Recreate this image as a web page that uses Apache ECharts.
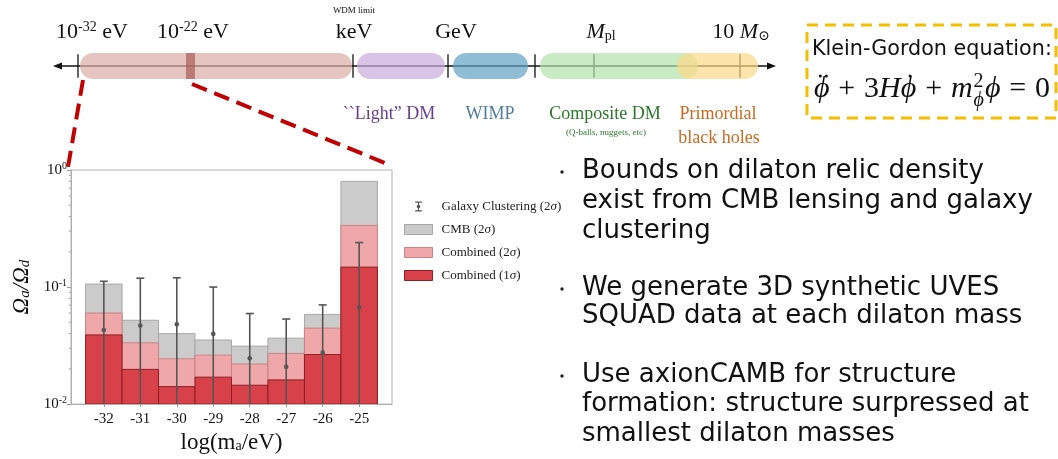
<!DOCTYPE html>
<html><head><meta charset="utf-8">
<script src="https://cdn.jsdelivr.net/npm/echarts@6/dist/echarts.min.js"></script>
<style>html,body{margin:0;padding:0;background:#fff}#c{width:1058px;height:459px}</style>
</head><body><div id="c"></div>
<script>
// ---------- data: dilaton relic density bounds ----------
const masses = [-32, -31, -30, -29, -28, -27, -26, -25];          // log10(m_a / eV)
const cmb2   = [0.106, 0.052, 0.040, 0.0353, 0.0313, 0.0366, 0.0584, 0.80];
const comb2  = [0.060, 0.0334, 0.0244, 0.0262, 0.0220, 0.0271, 0.0446, 0.336];
const comb1  = [0.039, 0.0198, 0.0141, 0.0170, 0.0145, 0.0161, 0.0265, 0.148];
const gcCentral = [0.043, 0.047, 0.048, 0.0398, 0.0246, 0.0208, 0.0276, 0.0673];
const gcUpper   = [0.112, 0.119, 0.120, 0.100, 0.0594, 0.0533, 0.0704, 0.240];
const gcLower   = [0.005, 0.005, 0.005, 0.005, 0.005, 0.005, 0.005, 0.005]; // below axis
const yMajorTicks = [0.01, 0.1, 1];
const yMinorTicks = [0.02,0.03,0.04,0.05,0.06,0.07,0.08,0.09,0.2,0.3,0.4,0.5,0.6,0.7,0.8,0.9];
const seriesNames = ['Galaxy Clustering (2σ)', 'CMB (2σ)', 'Combined (2σ)', 'Combined (1σ)'];

// ---------- schematic dark-matter mass line (schematic units, not to scale) ----------
const dmClasses   = ['ultralight', '``Light” DM', 'WIMP', 'Composite DM', 'Primordial black holes'];
const dmFrom      = [80, 357, 453, 540, 677];
const dmTo        = [352, 445, 528, 698, 758];
const fuzzyFrom   = [186];
const fuzzyTo     = [195];
const scaleMarks  = [78, 353, 448, 535, 594, 740];

const SERIF = '"Liberation Serif", "DejaVu Serif", serif';
const SANS = '"DejaVu Sans", "Open Sans", sans-serif';
const dmFill = ['rgb(219,172,165)', 'rgb(201,171,221)', 'rgb(94,161,195)', 'rgb(176,226,169)', 'rgb(252,217,136)'];

const chart = echarts.init(document.getElementById('c'), null, {renderer: 'canvas'});
const measureCtx = document.createElement('canvas').getContext('2d');
function textWidth(t, font) { measureCtx.font = font; return measureCtx.measureText(t).width; }
function fitSize(t, family, target) {
  const w = textWidth(t, '100px ' + family);
  return 100 * target / w;
}

function barRender(fill, stroke) {
  return function (params, api) {
    const x = api.value(0), v = api.value(1);
    const p0 = api.coord([x - 0.5, v]);
    const p1 = api.coord([x + 0.5, 0.01]);
    return {type: 'rect', shape: {x: p0[0], y: p0[1], width: p1[0] - p0[0], height: p1[1] - p0[1]},
            style: {fill: fill, stroke: stroke, lineWidth: 1}};
  };
}
function errRender(params, api) {
  const x = api.value(0);
  const lo = api.coord([x, api.value(1)]), hi = api.coord([x, api.value(2)]), mid = api.coord([x, api.value(3)]);
  const c = '#555', w = 4;
  return {type: 'group', children: [
    {type: 'line', shape: {x1: hi[0], y1: hi[1], x2: lo[0], y2: lo[1]}, style: {stroke: c, lineWidth: 1.6}},
    {type: 'line', shape: {x1: hi[0] - w, y1: hi[1], x2: hi[0] + w, y2: hi[1]}, style: {stroke: c, lineWidth: 1.6}},
    {type: 'line', shape: {x1: lo[0] - w, y1: lo[1], x2: lo[0] + w, y2: lo[1]}, style: {stroke: c, lineWidth: 1.6}},
    {type: 'circle', shape: {cx: mid[0], cy: mid[1], r: 2.3}, style: {fill: c}}
  ]};
}
function minorRender(params, api) {
  const p = api.coord([api.value(0), api.value(1)]);
  return {type: 'line', shape: {x1: p[0] - 2.5, y1: p[1], x2: p[0], y2: p[1]}, style: {stroke: '#999', lineWidth: 0.8}};
}
function bandRender(params, api) {
  const k = api.value(2);
  const a = api.coord([api.value(0), 0]), b = api.coord([api.value(1), 1]);
  const h = a[1] - b[1];
  return {type: 'rect', shape: {x: a[0], y: b[1], width: b[0] - a[0], height: h, r: h / 2},
          style: {fill: dmFill[k], opacity: 0.7}};
}
function fuzzyRender(params, api) {
  const a = api.coord([api.value(0), 0]), b = api.coord([api.value(1), 1]);
  return {type: 'rect', shape: {x: a[0], y: b[1], width: b[0] - a[0], height: a[1] - b[1]},
          style: {fill: 'rgba(170,90,90,0.7)'}};
}
function markRender(params, api) {
  const a = api.coord([api.value(0), 0.05]), b = api.coord([api.value(0), 0.95]);
  return {type: 'line', shape: {x1: a[0], y1: a[1], x2: b[0], y2: b[1]}, style: {stroke: '#111', lineWidth: 1.3}};
}

// equation pieces: phi-ddot + 3 H phi-dot + m_phi^2 phi = 0
const eqParts = [
  {t: 'ϕ', it: true, acc: 2}, {op: '+'}, {t: '3', it: false}, {t: 'H', it: true},
  {t: 'ϕ', it: true, acc: 1}, {op: '+'}, {t: 'm', it: true}, {sup: '2', sub: 'ϕ'},
  {t: 'ϕ', it: true}, {op: '='}, {t: '0', it: false}
];
function buildEquation(x0, x1, baseY, fs) {
  const els = [];
  const small = Math.round(fs * 0.66);
  const upF = fs + 'px ' + SERIF, itF = 'italic ' + fs + 'px ' + SERIF;
  const smUp = small + 'px ' + SERIF, smIt = 'italic ' + small + 'px ' + SERIF;
  let glyphs = 0, nOps = 0;
  const widths = eqParts.map(p => {
    let w;
    if (p.sup) w = Math.max(textWidth(p.sup, smUp), textWidth(p.sub, smIt)) + 2;
    else if (p.op) { w = textWidth(p.op, upF); nOps++; }
    else w = textWidth(p.t, p.it ? itF : upF);
    glyphs += w;
    return w;
  });
  const gap = (x1 - x0 - glyphs) / (2 * nOps);
  let x = x0;
  eqParts.forEach((p, i) => {
    const w = widths[i];
    if (p.op) x += gap;
    if (p.sup) {
      els.push({type: 'text', x: x + 1, y: baseY - fs * 0.40, z: 20, style: {text: p.sup, font: smUp, fill: '#111', verticalAlign: 'bottom'}});
      els.push({type: 'text', x: x + 1, y: baseY + fs * 0.24, z: 20, style: {text: p.sub, font: smIt, fill: '#111', verticalAlign: 'bottom'}});
    } else {
      const f = p.op ? upF : (p.it ? itF : upF);
      els.push({type: 'text', x: x, y: baseY, z: 20, style: {text: p.op || p.t, font: f, fill: '#111', verticalAlign: 'bottom'}});
      if (p.acc) {
        const cx = x + w * 0.6, cy = baseY - fs * 0.93;
        const dots = p.acc === 1 ? [0] : [-3, 3];
        dots.forEach(d => els.push({type: 'circle', z: 20, shape: {cx: cx + d, cy: cy, r: 1.5}, style: {fill: '#111'}}));
      }
    }
    x += w;
    if (p.op) x += gap;
  });
  return els;
}

const bullets = [
  ['Bounds on dilaton relic density', 'exist from CMB lensing and galaxy', 'clustering'],
  ['We generate 3D synthetic UVES', 'SQUAD data at each dilaton mass'],
  ['Use axionCAMB for structure', 'formation: structure surpressed at', 'smallest dilaton masses']
];
const bulletY = [[171, 201, 231], [288, 316], [375, 404, 434]];
const bulletSize = fitSize(bullets[0][1], SANS, 451);
const kgSize = fitSize('Klein-Gordon equation:', SANS, 240);

const graphics = [];
// arrow line
graphics.push({type: 'line', z: 1, shape: {x1: 58, y1: 66, x2: 770, y2: 66}, style: {stroke: '#111', lineWidth: 1.5}});
graphics.push({type: 'polygon', z: 1, shape: {points: [[53, 66], [62, 62.5], [62, 69.5]]}, style: {fill: '#111'}});
graphics.push({type: 'polygon', z: 1, shape: {points: [[776, 66], [767, 62.5], [767, 69.5]]}, style: {fill: '#111'}});
// top labels
const supRich = {sup: {fontSize: 14, fontFamily: SERIF, padding: [0, 0, 9, 0]}, i: {fontStyle: 'italic', fontSize: 22, fontFamily: SERIF}, sub: {fontSize: 14, fontFamily: SERIF, padding: [8, 0, 0, 0]}};
function topLabel(txt, cx, align) {
  return {type: 'text', x: cx, y: 32, z: 10, style: {text: txt, fontSize: 22, fontFamily: SERIF, fill: '#111', align: align || 'center', verticalAlign: 'middle', rich: supRich}};
}
graphics.push(topLabel('10{sup|-32} eV', 56, 'left'));
graphics.push(topLabel('10{sup|-22} eV', 157, 'left'));
graphics.push(topLabel('keV', 354));
graphics.push(topLabel('GeV', 456));
graphics.push(topLabel('{i|M}{sub|pl}', 601));
graphics.push(topLabel('10 {i|M}{sub|⊙}', 741));
graphics.push({type: 'text', x: 354, y: 11, z: 10, style: {text: 'WDM limit', fontSize: 9, fontFamily: SERIF, fill: '#111', align: 'center', verticalAlign: 'middle'}});
// class labels
function classLabel(txt, cx, cy, color, fs) {
  return {type: 'text', x: cx, y: cy, z: 10, style: {text: txt, fontSize: fs || 18, fontFamily: SERIF, fill: color, align: 'center', verticalAlign: 'middle'}};
}
graphics.push(classLabel(dmClasses[1], 389, 114, '#6a408e'));
graphics.push(classLabel(dmClasses[2], 490, 114, '#4f7d9c'));
graphics.push(classLabel(dmClasses[3], 605, 114, '#2a7a2a'));
graphics.push(classLabel('(Q-balls, nuggets, etc)', 606, 133, '#2a7a2a', 9));
graphics.push(classLabel('Primordial', 718, 114, '#cc6a1f'));
graphics.push(classLabel('black holes', 719, 138, '#cc6a1f'));
// zoom lines
graphics.push({type: 'line', z: 5, shape: {x1: 83, y1: 80, x2: 68, y2: 167}, style: {stroke: '#c00000', lineWidth: 4, lineDash: [16, 8]}});
graphics.push({type: 'line', z: 5, shape: {x1: 192, y1: 84, x2: 385, y2: 163}, style: {stroke: '#c00000', lineWidth: 4, lineDash: [16, 8]}});
// equation box
graphics.push({type: 'rect', z: 5, shape: {x: 807, y: 25, width: 249, height: 93}, style: {fill: '#fff', stroke: '#f6bd00', lineWidth: 3, lineDash: [11, 7]}});
graphics.push({type: 'text', x: 812, y: 50, z: 20, style: {text: 'Klein-Gordon equation:', fontSize: kgSize, fontFamily: SANS, fill: '#111', verticalAlign: 'middle'}});
buildEquation(814, 1050, 104, 30).forEach(e => graphics.push(e));
// bullets
bullets.forEach((lines, bi) => {
  graphics.push({type: 'circle', z: 10, shape: {cx: 562, cy: bulletY[bi][0] + 1, r: 1.7}, style: {fill: '#222'}});
  lines.forEach((ln, li) => {
    graphics.push({type: 'text', x: 582, y: bulletY[bi][li], z: 10, style: {text: ln, fontSize: bulletSize, fontFamily: SANS, fill: '#111', verticalAlign: 'middle'}});
  });
});

const errIcon = 'path://M0,6L0,6M28,6L28,6M10,0H18V1.4H14.7V10.6H18V12H10V10.6H13.3V1.4H10Z M14,3.8A2.2,2.2 0 1,1 14,8.2A2.2,2.2 0 1,1 14,3.8Z';

const option = {
  backgroundColor: '#fff',
  animation: false,
  grid: [
    {left: 71, top: 170, width: 321, height: 237, show: true, borderColor: '#b0b0b0', borderWidth: 1},
    {left: 0, top: 53, width: 1058, height: 26, show: false}
  ],
  xAxis: [
    {gridIndex: 0, type: 'value', min: -32.9, max: -24.1,
     axisLine: {show: true, lineStyle: {color: '#b0b0b0'}},
     axisTick: {show: true, customValues: masses, length: 3, lineStyle: {color: '#999'}},
     axisLabel: {customValues: masses, fontFamily: SERIF, fontSize: 15, color: '#111', margin: 7},
     splitLine: {show: false},
     name: '{t|log(m}{s|a}{t|/eV)}', nameLocation: 'middle', nameGap: 22,
     nameTextStyle: {rich: {t: {fontFamily: SERIF, fontSize: 23, color: '#111'}, s: {fontFamily: SERIF, fontSize: 14, color: '#111', padding: [8, 0, 0, 0]}}}},
    {gridIndex: 1, type: 'value', min: 0, max: 1058, show: false}
  ],
  yAxis: [
    {gridIndex: 0, type: 'log', logBase: 10, min: 0.01, max: 1,
     axisLine: {show: true, lineStyle: {color: '#b0b0b0'}},
     axisTick: {show: true, customValues: yMajorTicks, length: 4, lineStyle: {color: '#999'}},
     axisLabel: {customValues: yMajorTicks, margin: 4, color: '#111', fontFamily: SERIF, fontSize: 15,
       formatter: v => '10{sup|' + Math.round(Math.log10(v)) + '}',
       rich: {sup: {fontFamily: SERIF, fontSize: 10, color: '#111', padding: [0, 0, 8, 0]}}},
     splitLine: {show: false},
     name: '{t|Ω}{s|a}{t|/Ω}{s|d}', nameLocation: 'middle', nameRotate: 90, nameGap: 38,
     nameTextStyle: {rich: {t: {fontFamily: SERIF, fontStyle: 'italic', fontSize: 23, color: '#111'}, s: {fontFamily: SERIF, fontStyle: 'italic', fontSize: 15, color: '#111', padding: [8, 0, 0, 0]}}}},
    {gridIndex: 1, type: 'value', min: 0, max: 1, show: false}
  ],
  legend: {
    orient: 'vertical', left: 399, top: 195, itemWidth: 28, itemHeight: 10, itemGap: 10, selectedMode: false,
    textStyle: {fontFamily: SERIF, fontSize: 13, color: '#222', lineHeight: 12, padding: [0, 0, 0, 4],
      rich: {g: {fontFamily: SERIF, fontSize: 13, fontStyle: 'italic', color: '#222'}}},
    formatter: n => n.replace('σ', '{g|σ}'),
    data: [
      {name: seriesNames[0], icon: errIcon, itemStyle: {color: '#555'}},
      {name: seriesNames[1], icon: 'rect', itemStyle: {color: '#cbcbcb', borderColor: '#a8a8a8', borderWidth: 1}},
      {name: seriesNames[2], icon: 'rect', itemStyle: {color: '#efa7a9', borderColor: '#c98486', borderWidth: 1}},
      {name: seriesNames[3], icon: 'rect', itemStyle: {color: '#d9414a', borderColor: '#8c1f24', borderWidth: 1}}
    ]
  },
  graphic: {elements: graphics},
  series: [
    {name: seriesNames[1], type: 'custom', xAxisIndex: 0, yAxisIndex: 0, z: 2, clip: true,
     itemStyle: {color: '#cbcbcb'}, renderItem: barRender('#cbcbcb', '#a8a8a8'),
     data: masses.map((m, i) => [m, cmb2[i]])},
    {name: seriesNames[2], type: 'custom', xAxisIndex: 0, yAxisIndex: 0, z: 2, clip: true,
     itemStyle: {color: '#efa7a9'}, renderItem: barRender('#efa7a9', '#c98486'),
     data: masses.map((m, i) => [m, comb2[i]])},
    {name: seriesNames[3], type: 'custom', xAxisIndex: 0, yAxisIndex: 0, z: 2, clip: true,
     itemStyle: {color: '#d9414a'}, renderItem: barRender('#d9414a', '#8c1f24'),
     data: masses.map((m, i) => [m, comb1[i]])},
    {name: seriesNames[0], type: 'custom', xAxisIndex: 0, yAxisIndex: 0, z: 3, clip: true,
     itemStyle: {color: '#555'}, renderItem: errRender,
     data: masses.map((m, i) => [m, gcLower[i], gcUpper[i], gcCentral[i]])},
    {type: 'custom', xAxisIndex: 0, yAxisIndex: 0, z: 3, clip: false, silent: true, renderItem: minorRender,
     data: yMinorTicks.map(v => [-32.9, v])},
    {type: 'custom', xAxisIndex: 1, yAxisIndex: 1, z: 2, silent: true, renderItem: markRender,
     data: scaleMarks.map(v => [v])},
    {type: 'custom', xAxisIndex: 1, yAxisIndex: 1, z: 3, silent: true, renderItem: bandRender,
     data: dmFrom.map((f, i) => [f, dmTo[i], i])},
    {type: 'custom', xAxisIndex: 1, yAxisIndex: 1, z: 4, silent: true, renderItem: fuzzyRender,
     data: fuzzyFrom.map((f, i) => [f, fuzzyTo[i]])}
  ]
};
chart.setOption(option);
</script></body></html>
